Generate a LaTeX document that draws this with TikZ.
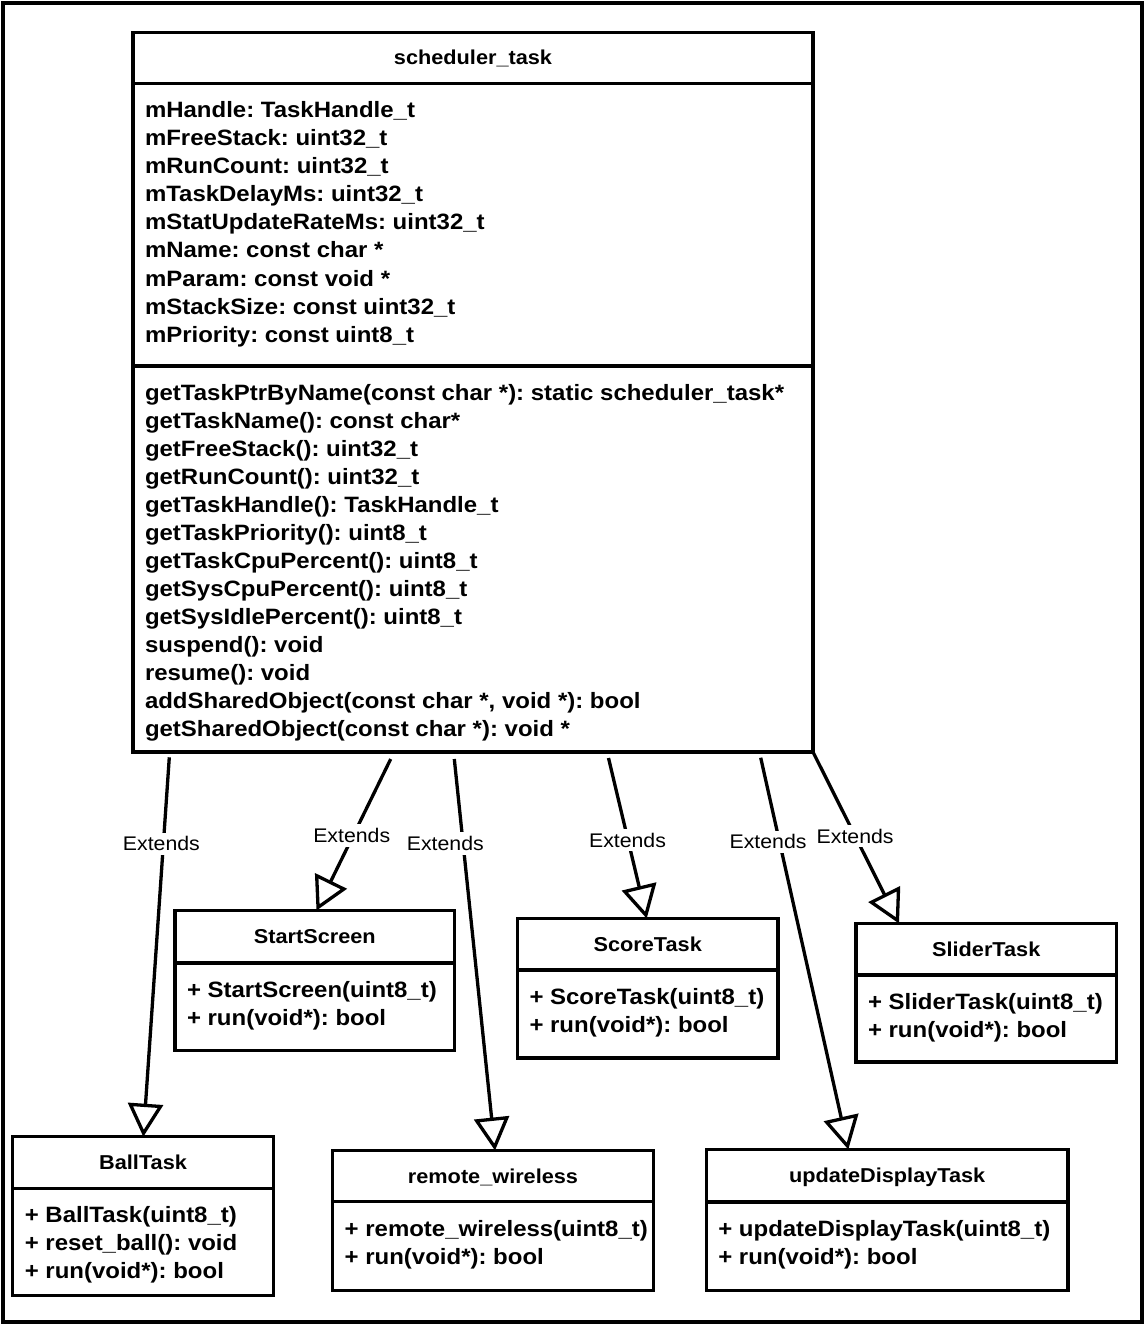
\documentclass[tikz,border=0pt]{standalone}
\usepackage{fontspec}
\usetikzlibrary{arrows.meta,calc}
\newfontfamily\umlfont[FakeStretch=1.08]{Liberation Sans}
\frenchspacing
\newcommand\UmlClass[7]{%
  % #1 name, #2 left, #3 top, #4 width, #5 height, #6 header height, #7 title
  \node[clsbox, minimum width=#4pt, minimum height=#5pt, anchor=north west] (#1) at (#2,#3) {};
  \draw[bx] ([yshift=-#6pt]#1.north west) -- ([yshift=-#6pt]#1.north east);
  \node[ttl, anchor=base] (#1-title) at ([yshift={-(#6/2+7)*1pt}]#1.north) {#7};
}
\newcommand\UmlMembers[4]{%
  % #1 box, #2 prefix, #3 compartment top offset, #4 list
  \foreach \m [count=\i from 0] in {#4} {%
    \node[mem, anchor=base west] (#2\i) at ([xshift=12pt, yshift={-(#3+34.5+28*\i)*1pt}]#1.north west) {\m};
  }%
}
\tikzset{
  bx/.style={line width=3.3pt},
  clsbox/.style={draw, line width=3.3pt, rectangle, inner sep=0pt, outer sep=0pt, fill=white},
  mem/.style={font=\umlfont\bfseries\fontsize{22.2}{28}\selectfont\frenchspacing, inner sep=0pt, outer sep=0pt},
  ttl/.style={font=\umlfont\bfseries\fontsize{20.1}{24}\selectfont, inner sep=0pt, outer sep=0pt},
  lbl/.style={font=\umlfont\fontsize{19.7}{24}\selectfont, fill=white, inner xsep=1pt, inner ysep=4pt},
  ext/.style={line width=3.3pt, -{Triangle[open, length=33pt, width=35pt]}},
}
\begin{document}
\begin{tikzpicture}[x=1pt, y=-1pt]
  \useasboundingbox (0,0) rectangle (1144,1324);
  \fill[white] (0,0) rectangle (1144,1324);
  \draw[line width=3.5pt] (3,3) rectangle (1142,1322);

  % scheduler_task
  \UmlClass{sched}{133}{32.5}{680}{719.5}{51}{scheduler\_task}
  \draw[bx] ([yshift=-333.5pt]sched.north west) -- ([yshift=-333.5pt]sched.north east);
  \UmlMembers{sched}{sa}{51}{mHandle: TaskHandle\_t, mFreeStack: uint32\_t, mRunCount: uint32\_t, mTaskDelayMs: uint32\_t, mStatUpdateRateMs: uint32\_t, mName: const char *, mParam: const void *, mStackSize: const uint32\_t, mPriority: const uint8\_t}
  \UmlMembers{sched}{sm}{333.5}{{getTaskPtrByName(const char *): static scheduler\_task*}, getTaskName(): const char*, getFreeStack(): uint32\_t, getRunCount(): uint32\_t, getTaskHandle(): TaskHandle\_t, getTaskPriority(): uint8\_t, getTaskCpuPercent(): uint8\_t, getSysCpuPercent(): uint8\_t, getSysIdlePercent(): uint8\_t, suspend(): void, resume(): void, {addSharedObject(const char *, void *): bool}, {getSharedObject(const char *): void *}}

  % subclasses
  \UmlClass{start}{175}{910.5}{279.5}{140}{52.5}{StartScreen}
  \UmlMembers{start}{stm}{52.5}{+ StartScreen(uint8\_t), + run(void*): bool}

  \UmlClass{score}{517.5}{918.5}{260.5}{139.5}{51.5}{ScoreTask}
  \UmlMembers{score}{scm}{51.5}{+ ScoreTask(uint8\_t), + run(void*): bool}

  \UmlClass{slider}{856}{923.5}{260.5}{138.5}{51.5}{SliderTask}
  \UmlMembers{slider}{slm}{51.5}{+ SliderTask(uint8\_t), + run(void*): bool}

  \UmlClass{ball}{12.8}{1136.7}{260.5}{159}{51.6}{BallTask}
  \UmlMembers{ball}{bm}{51.6}{+ BallTask(uint8\_t), + reset\_ball(): void, + run(void*): bool}

  \UmlClass{remote}{332.7}{1150.5}{320.6}{140}{51}{remote\_wireless}
  \UmlMembers{remote}{rm}{51}{+ remote\_wireless(uint8\_t), + run(void*): bool}

  \UmlClass{update}{706.3}{1149.5}{361.7}{141.2}{52.5}{updateDisplayTask}
  \UmlMembers{update}{um}{52.5}{+ updateDisplayTask(uint8\_t), + run(void*): bool}

  % connector start points just below scheduler_task
  \coordinate (s1) at ($(sched.south west)+(36.3pt,-5.3pt)$);
  \coordinate (s2) at ($(sched.south west)+(257.7pt,-7pt)$);
  \coordinate (s3) at ($(sched.south west)+(321.3pt,-7pt)$);
  \coordinate (s4) at ($(sched.south west)+(475.5pt,-6pt)$);
  \coordinate (s5) at ($(sched.south west)+(627.7pt,-5.7pt)$);

  \draw[ext] (s1) -- node[lbl, pos=0.228, xshift=-2pt] (l1) {Extends} ($(ball.north west)+(130.5pt,0pt)$);
  \draw[ext] (s2) -- node[lbl, pos=0.505, xshift=-1.5pt] (l2) {Extends} ($(start.north west)+(141.5pt,0pt)$);
  \draw[ext] (s3) -- node[lbl, pos=0.216, xshift=-17.8pt] (l3) {Extends} ($(remote.north west)+(162.3pt,0pt)$);
  \draw[ext] (s4) -- node[lbl, pos=0.511, xshift=-0.5pt] (l4) {Extends} ($(score.north west)+(129.2pt,0pt)$);
  \draw[ext] (s5) -- node[lbl, pos=0.215, xshift=-11.5pt] (l5) {Extends} ($(update.north west)+(142pt,0pt)$);
  \draw[ext] (sched.south east) -- node[lbl, pos=0.49] (l6) {Extends} ($(slider.north west)+(43pt,0pt)$);
\end{tikzpicture}
\end{document}
